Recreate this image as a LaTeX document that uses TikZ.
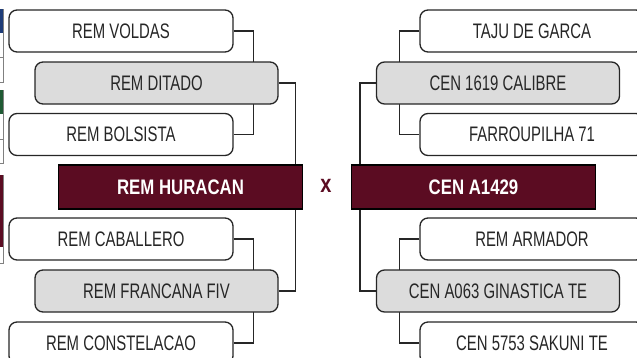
\documentclass[tikz,border=0pt]{standalone}
\usepackage{fontspec}
\setmainfont[FakeStretch=0.71]{Liberation Sans}
\newfontfamily\widefont[FakeStretch=0.80]{Liberation Sans}
\usepackage{xcolor}
\usetikzlibrary{backgrounds}
\definecolor{maroon}{HTML}{5B0C22}
\definecolor{boxgray}{HTML}{DCDCDC}
\definecolor{inkgray}{HTML}{262626}
\definecolor{sideblue}{HTML}{1E3C78}
\definecolor{sidegreen}{HTML}{1F5A34}

\tikzset{
  team/.style={draw=inkgray,fill=white,rounded corners=8pt,line width=1.3pt,
    minimum width=224pt,minimum height=42pt,text=inkgray,
    font=\fontsize{21}{23}\selectfont},
  winner/.style={team,fill=boxgray,minimum width=243pt},
  final/.style={draw=black,fill=maroon,line width=1.3pt,minimum width=244pt,
    minimum height=44pt,text=white,font=\widefont\fontsize{21}{23}\selectfont\bfseries},
  link/.style={draw=inkgray,line width=1.3pt},
  sliver/.style={draw=gray,line width=0.8pt}
}

\begin{document}
\begin{tikzpicture}[x=1pt,y=-1pt]
\useasboundingbox (0,0) rectangle (637,357);
\clip (0,0) rectangle (637,357);
% slivers of the next table on the left edge
\draw[sliver] (-6,9) rectangle (3,82) (-6,57)--(3,57);
\fill[sideblue] (-6,9) rectangle (3,33);
\draw[sliver] (-6,90) rectangle (3,163) (-6,139)--(3,139);
\fill[sidegreen] (-6,90) rectangle (3,114);
\draw[sliver] (-6,175) rectangle (3,263);
\fill[maroon] (-6,175) rectangle (3,247);
% left side
\node[team] (voldas) at (121,31) {REM VOLDAS};
\node[winner] (ditado) at (156.5,83) {REM DITADO};
\node[team] (bolsista) at (121,134.5) {REM BOLSISTA};
\node[final] (huracan) at (180.5,187) {REM HURACAN};
\node[team] (caballero) at (121,239) {REM CABALLERO};
\node[winner] (francana) at (156.5,291) {REM FRANCANA FIV};
\node[team] (constelacao) at (121,343) {REM CONSTELACAO};
% right side
\node[team] (taju) at (532,31) {TAJU DE GARCA};
\node[winner] (calibre) at (498,83) {CEN 1619 CALIBRE};
\node[team] (farroupilha) at (532,134.5) {FARROUPILHA 71};
\node[final] (a1429) at (473.5,187) {CEN A1429};
\node[team] (armador) at (532,239) {REM ARMADOR};
\node[winner] (ginastica) at (498,291) {CEN A063 GINASTICA TE};
\node[team] (sakuni) at (532,343) {CEN 5753 SAKUNI TE};
\node[text=maroon,font=\widefont\fontsize{25}{26}\selectfont\bfseries] (versus) at (326,186) {x};
% brackets
\begin{pgfonlayer}{background}
\draw[link] (voldas.east) -- ++(20,0) |- (bolsista.east);
\draw[link] (ditado.east) -- ++(17,0) |- (francana.east);
\draw[link] (caballero.east) -- ++(20,0) |- (constelacao.east);
\draw[link] (taju.west) -- ++(-20,0) |- (farroupilha.west);
\draw[link] (calibre.west) -- ++(-16,0) |- (ginastica.west);
\draw[link] (armador.west) -- ++(-20,0) |- (sakuni.west);
\end{pgfonlayer}
\end{tikzpicture}
\end{document}
